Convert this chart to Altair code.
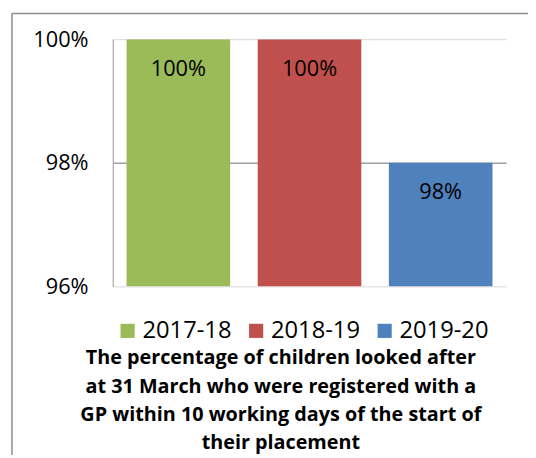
import altair as alt
import pandas as pd

years = ["2017-18", "2018-19", "2019-20"]
values = [1.00, 1.00, 0.98]
colors = ["#9BBB59", "#C0504D", "#4F81BD"]
title_lines = [
    "The percentage of children looked after",
    "at 31 March who were registered with a",
    "GP within 10 working days of the start of",
    "their placement",
]

df = pd.DataFrame({"year": years, "value": values})
FONT = "Open Sans"

base = alt.Chart(df)

bars = base.mark_bar(clip=True).encode(
    x=alt.X("year:N", axis=None, sort=years,
            scale=alt.Scale(paddingInner=0.21, paddingOuter=0.105)),
    y=alt.Y("value:Q",
            scale=alt.Scale(domain=[0.96, 1.0], zero=False, nice=False),
            axis=alt.Axis(values=[0.96, 0.98, 1.0], format=".0%", title=None,
                          ticks=False, labelPadding=25, labelFontSize=22,
                          labelFont=FONT, labelColor="#000",
                          domainColor="#a6a6a6", domainWidth=1.2,
                          gridColor={"expr": "datum.value == 0.98 ? '#a0a0a0' : '#d9d9d9'"},
                          gridWidth={"expr": "datum.value == 0.98 ? 1.5 : 1"})),
    color=alt.Color("year:N", sort=years,
                    scale=alt.Scale(domain=years, range=colors),
                    legend=alt.Legend(title=None, orient="none", direction="horizontal",
                                      legendX=3, legendY=283, symbolType="square",
                                      symbolSize=205, symbolStrokeWidth=0,
                                      labelFontSize=24, labelFont=FONT, labelColor="#000",
                                      columnPadding=12, labelOffset=3)),
)

labels = base.mark_text(baseline="middle", dy=30, fontSize=22, font=FONT, color="#000").encode(
    x=alt.X("year:N", sort=years),
    y=alt.Y("value:Q"),
    text=alt.Text("value:Q", format=".0%"),
)

frame_data = alt.Data(values=[{"f": 1}])
frame_v = alt.Chart(frame_data).mark_rule(color="#8c8c8c", strokeWidth=1.5).encode(
    x=alt.value(-102), y=alt.value(-26), y2=alt.value(600))
frame_h = alt.Chart(frame_data).mark_rule(color="#8c8c8c", strokeWidth=1.5).encode(
    x=alt.value(-102), x2=alt.value(700), y=alt.value(-26))

title = alt.Chart(frame_data).mark_text(
    align="center", baseline="middle", fontSize=20, font=FONT, fontWeight="bold",
    lineHeight=28.5, color="#000").encode(
    x=alt.value(170), y=alt.value(323), text=alt.value(title_lines))

chart = alt.layer(frame_v, frame_h, bars, labels, title).properties(
    width=398, height=250,
    autosize=alt.AutoSizeParams(type="none"),
    padding={"left": 106, "top": 29, "right": 22, "bottom": 168},
).configure_view(stroke=None)

chart.save("out.html", embed_options={"renderer": "svg", "actions": False})
